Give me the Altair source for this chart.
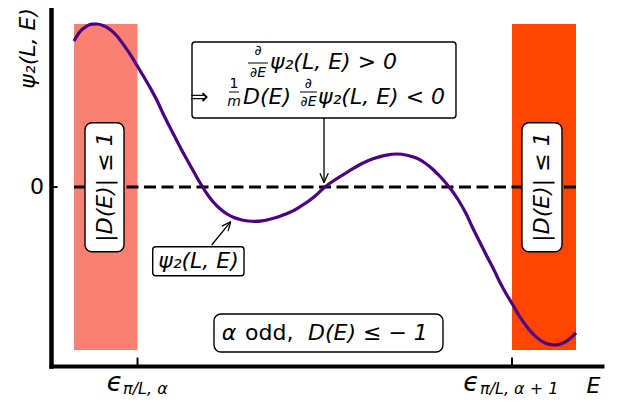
import altair as alt
import pandas as pd

# ---- data (x: E in [0,1], y: psi_2 in [-1,1]) ----
E_pts = [0.0417, 0.0526, 0.0635, 0.0744, 0.0835, 0.0944, 0.1071, 0.1198, 0.1307, 0.1434,
         0.1561, 0.1670, 0.1797, 0.1924, 0.2033, 0.2160, 0.2287, 0.2396, 0.2523, 0.2632,
         0.2740, 0.2849, 0.2958, 0.3067, 0.3194, 0.3321, 0.3448, 0.3575, 0.3702, 0.3829,
         0.3975, 0.4102, 0.4247, 0.4392, 0.4519, 0.4664, 0.4809, 0.4955, 0.5191, 0.5426,
         0.5644, 0.5844, 0.6062, 0.6279, 0.6461, 0.6642, 0.6788, 0.6933, 0.7078, 0.7241,
         0.7387, 0.7532, 0.7659, 0.7786, 0.7913, 0.8040, 0.8149, 0.8258, 0.8367, 0.8494,
         0.8639, 0.8748, 0.8875, 0.9002, 0.9147, 0.9274, 0.9401, 0.9528]
psi_pts = [0.8156, 0.8687, 0.8966, 0.9095, 0.9106, 0.9022, 0.8799, 0.8436, 0.7989, 0.7430,
           0.6788, 0.6229, 0.5559, 0.4832, 0.4106, 0.3324, 0.2570, 0.1927, 0.1229, 0.0626,
           0.0056, -0.0458, -0.0883, -0.1218, -0.1508, -0.1709, -0.1832, -0.1899, -0.1916, -0.1888,
           -0.1804, -0.1693, -0.1525, -0.1330, -0.1101, -0.0810, -0.0458, -0.0039, 0.0475, 0.0922,
           0.1313, 0.1575, 0.1765, 0.1844, 0.1777, 0.1603, 0.1341, 0.0978, 0.0531, -0.0056,
           -0.0698, -0.1480, -0.2318, -0.3101, -0.3883, -0.4637, -0.5335, -0.5950, -0.6508, -0.7179,
           -0.7821, -0.8212, -0.8547, -0.8760, -0.8827, -0.8743, -0.8520, -0.8156]

band_start = [0.0417, 0.8367]
band_end = [0.157, 0.9528]
band_low = [-0.91, -0.91]
band_high = [0.91, 0.91]
band_color = ["#FA8072", "#FF4500"]

tick_E = [0.157, 0.8367]
tick_main = ["ϵ", "ϵ"]
tick_sub = ["π/L, α", "π/L, α + 1"]

FONT = "DejaVu Sans"
W, H = 551, 358

xs = alt.Scale(domain=[0, 1], nice=False, zero=False)
ys = alt.Scale(domain=[-1, 1], nice=False, zero=False)
ax_x = alt.Axis(domain=True, domainWidth=4, domainColor="black", domainCap="square",
                ticks=False, labels=False, grid=False, title=None)
ax_y = alt.Axis(domain=True, domainWidth=4.5, domainColor="black", domainCap="square",
                ticks=False, labels=False, grid=False, title=None)


def X(f):
    return alt.X(f, type="quantitative", scale=xs, axis=ax_x)


def Y(f):
    return alt.Y(f, type="quantitative", scale=ys, axis=ax_y)


layers = []

# shaded bands
bands = pd.DataFrame({"x": band_start, "x2": band_end, "y": band_low, "y2": band_high, "c": band_color})
layers.append(alt.Chart(bands).mark_rect().encode(
    x=X("x"), x2="x2", y=Y("y"), y2="y2", color=alt.Color("c:N", scale=None)))

# dashed zero line over the bands
zero = pd.DataFrame({"x": [band_start[0]], "x2": [band_end[1]], "y": [0.0]})
layers.append(alt.Chart(zero).mark_rule(color="black", strokeWidth=3, strokeDash=[12, 5.5]).encode(
    x=X("x"), x2="x2", y=Y("y")))

# curve
curve = pd.DataFrame({"E": E_pts, "psi": psi_pts})
layers.append(alt.Chart(curve).mark_line(color="#4B0082", strokeWidth=3.2, interpolate="monotone").encode(
    x=X("E"), y=Y("psi")))

# inward ticks
tx = pd.DataFrame({"x": tick_E, "y": [-1.0, -1.0], "y2": [-0.953, -0.953]})
layers.append(alt.Chart(tx).mark_rule(color="black", strokeWidth=2).encode(x=X("x"), y=Y("y"), y2="y2"))
ty = pd.DataFrame({"x": [0.0], "x2": [0.012], "y": [0.0]})
layers.append(alt.Chart(ty).mark_rule(color="black", strokeWidth=2).encode(x=X("x"), x2="x2", y=Y("y")))


def box(x, x2, y, y2, r):
    d = pd.DataFrame({"x": [x], "x2": [x2], "y": [y], "y2": [y2]})
    return alt.Chart(d).mark_rect(fill="white", stroke="black", strokeWidth=1.4, cornerRadius=r).encode(
        x=X("x"), x2="x2", y=Y("y"), y2="y2")


def seg(x, y, x2, y2, w=1.3):
    d = pd.DataFrame({"x": [x], "x2": [x2], "y": [y], "y2": [y2]})
    return alt.Chart(d).mark_rule(color="black", strokeWidth=w).encode(
        x=X("x"), x2="x2", y=Y("y"), y2="y2")


def txt(x, y, s, size=22, italic=True, align="center", baseline="middle", angle=0):
    d = pd.DataFrame({"x": [x], "y": [y], "t": [s]})
    kw = dict(font=FONT, fontSize=size, align=align, baseline=baseline, color="black")
    if italic:
        kw["fontStyle"] = "italic"
    if angle:
        kw["angle"] = angle
    return alt.Chart(d).mark_text(**kw).encode(x=X("x"), y=Y("y"), text="t:N")


# rotated |D(E)| <= 1 boxes
for bx0, bx1 in [(0.0617, 0.1325), (0.8548, 0.9274)]:
    layers.append(box(bx0, bx1, -0.3615, 0.3592, 7))
    layers.append(txt((bx0 + bx1) / 2, 0.0, "|D(E)| ≤ 1", angle=270))

# top annotation box with arrow
layers.append(seg(0.4955, 0.3855, 0.4955, 0.025))
layers.append(seg(0.4955, 0.025, 0.4882, 0.0765))
layers.append(seg(0.4955, 0.025, 0.5033, 0.0765))
layers.append(box(0.2559, 0.7350, 0.3855, 0.8101, 3))
# line 1
layers.append(txt(0.3757, 0.7570, "∂", size=14, italic=False))
layers.append(seg(0.3575, 0.6927, 0.3938, 0.6927, 1))
layers.append(txt(0.3757, 0.6341, "∂E", size=14))
layers.append(txt(0.3975, 0.6983, "ψ₂(L, E) > 0", align="left"))
# line 2
layers.append(txt(0.2523, 0.5028, "⇒", italic=False, align="left"))
layers.append(txt(0.3321, 0.5754, "1", size=14, italic=False))
layers.append(seg(0.3230, 0.5307, 0.3412, 0.5307, 1))
layers.append(txt(0.3321, 0.4776, "m", size=14))
layers.append(txt(0.3485, 0.5028, "D(E)", align="left"))
layers.append(txt(0.4673, 0.5754, "∂", size=14, italic=False))
layers.append(seg(0.4519, 0.5307, 0.4828, 0.5307, 1))
layers.append(txt(0.4673, 0.4776, "∂E", size=14))
layers.append(txt(0.4846, 0.5028, "ψ₂(L, E) < 0", align="left"))

# psi_2 label box with arrow
layers.append(seg(0.2917, -0.324, 0.3261, -0.1939))
layers.append(seg(0.3261, -0.1939, 0.3214, -0.2469))
layers.append(seg(0.3261, -0.1939, 0.3102, -0.219))
layers.append(box(0.1846, 0.3503, -0.4955, -0.3335, 3))
layers.append(txt(0.2677, -0.4134, "ψ₂(L, E)"))

# bottom box
layers.append(box(0.2958, 0.7114, -0.9218, -0.7095, 7))
layers.append(txt(0.3098, -0.8156, "α", align="left"))
layers.append(txt(0.3521, -0.8156, "odd,", italic=False, align="left"))
layers.append(txt(0.4664, -0.8156, "D(E) ≤ − 1", align="left"))

# axis texts
layers.append(txt(-0.0127, 0.0, "0", italic=False, align="right"))
layers.append(txt(0.997, -1.109, "E", align="right"))
layers.append(txt(-0.0417, 1.0, "ψ₂(L, E)", align="right", angle=270))
layers.append(txt(0.1010, -1.140, tick_main[0], size=26, align="left", baseline="alphabetic"))
layers.append(txt(0.1307, -1.156, tick_sub[0], size=16, align="left", baseline="alphabetic"))
layers.append(txt(0.7483, -1.140, tick_main[1], size=26, align="left", baseline="alphabetic"))
layers.append(txt(0.7786, -1.156, tick_sub[1], size=16, align="left", baseline="alphabetic"))

chart = alt.layer(*layers).properties(
    width=W, height=H,
    padding={"left": 43, "top": 0, "right": 15, "bottom": 31},
    autosize=alt.AutoSizeParams(type="none"),
).configure_view(stroke=None)

chart.save("out.html", embed_options={"renderer": "svg", "actions": False})
